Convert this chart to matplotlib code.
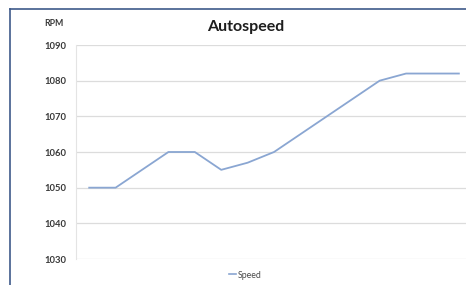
import matplotlib
matplotlib.use("Agg")
import matplotlib.pyplot as plt
from matplotlib.lines import Line2D

# data
samples = list(range(15))
speed = [1050, 1050, 1055, 1060, 1060, 1055, 1057, 1060, 1065, 1070, 1075, 1080, 1082, 1082, 1082]
yticks = [1030, 1040, 1050, 1060, 1070, 1080, 1090]

plt.rcParams['font.family'] = ['Lato', 'DejaVu Sans']

fig = plt.figure(figsize=(4.66, 2.85), dpi=100)
ax = fig.add_axes([76 / 466, 26 / 285, 390 / 466, 214 / 285])

line_col = "#8aa6d2"
ax.plot(samples, speed, color=line_col, lw=1.3, label="Speed")

ax.set_xlim(-0.5, 14.27)
ax.set_ylim(1030, 1090)
ax.set_yticks(yticks)
ax.set_xticks([])
ax.tick_params(axis='y', length=0, pad=7, labelsize=6.8, labelcolor="#3a3a3a")
for lab in ax.get_yticklabels():
    lab.set_fontweight("bold")

ax.grid(True, axis='y', color="#dcdcdc", lw=0.9)
for s in ["top", "right", "bottom"]:
    ax.spines[s].set_visible(False)
ax.spines["left"].set_color("#e4e4e4")
ax.spines["left"].set_linewidth(0.8)

# title and axis caption
fig.text(246 / 466, 1 - 27 / 285, "Autospeed", ha="center", va="center",
         fontsize=11.5, fontweight="bold", color="#1e1e1e")
fig.text(54 / 466, 1 - 24 / 285, "RPM", ha="center", va="center",
         fontsize=6.3, fontweight="bold", color="#3a3a3a")

# legend at bottom
leg = fig.legend(handles=[Line2D([0], [0], color=line_col, lw=1.2)], labels=["Speed"],
                 loc="center", bbox_to_anchor=(245 / 466, 1 - 275 / 285),
                 frameon=False, fontsize=6.3, handlelength=0.8, handletextpad=0.2,
                 borderpad=0)
for t in leg.get_texts():
    t.set_color("#4a4a4a")

# dark frame border on top and left
border = "#3e5a8a"
fig.add_artist(Line2D([10 / 466, 1], [1 - 9 / 285, 1 - 9 / 285], color=border, lw=1.2,
                      transform=fig.transFigure))
fig.add_artist(Line2D([10 / 466, 10 / 466], [0, 1 - 9 / 285], color=border, lw=1.2,
                      transform=fig.transFigure))

fig.savefig("out.png", dpi=100)
